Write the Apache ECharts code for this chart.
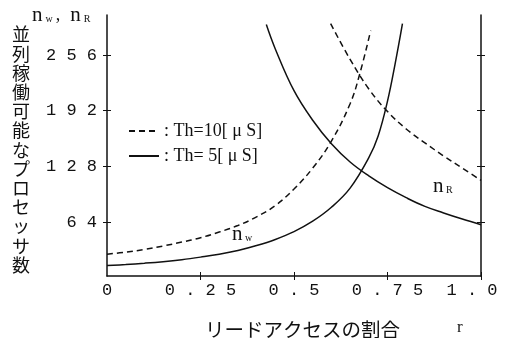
<!DOCTYPE html>
<html>
<head>
<meta charset="utf-8">
<script src="https://cdn.jsdelivr.net/npm/echarts@6/dist/echarts.min.js"></script>
<style>
  html, body { margin: 0; padding: 0; background: #ffffff; }
  #chart { width: 507px; height: 338px; }
</style>
</head>
<body>
<div id="chart"></div>
<script>
// n_w, Th = 5 us (solid)
const rW5 = [0, 0.05, 0.1, 0.15, 0.2, 0.25, 0.3, 0.35, 0.4, 0.45, 0.5, 0.55, 0.6, 0.65, 0.7, 0.725, 0.75, 0.77, 0.79];
const nW5 = [14, 15.2, 16.7, 18.5, 20.8, 23.7, 27, 31.3, 37, 44, 53, 65, 81, 103, 138, 163, 203, 245, 292];

// n_w, Th = 10 us (dashed)
const rW10 = [0, 0.05, 0.1, 0.15, 0.2, 0.25, 0.3, 0.35, 0.4, 0.45, 0.5, 0.55, 0.6, 0.65, 0.675, 0.705];
const nW10 = [27, 29.5, 32.5, 36.5, 41, 46, 52.5, 60, 70, 83, 102, 126, 157, 200, 233, 284];

// n_R, Th = 5 us (solid)
const rR5 = [0.426, 0.45, 0.5, 0.55, 0.6, 0.65, 0.7, 0.75, 0.8, 0.85, 0.9, 0.95, 1.0];
const nR5 = [291, 263, 215, 181, 154, 133, 117, 103.5, 92, 82, 74.5, 67.5, 61];

// n_R, Th = 10 us (dashed)
const rR10 = [0.598, 0.65, 0.7, 0.75, 0.8, 0.85, 0.9, 0.95, 1.0];
const nR10 = [292, 251, 217, 191, 171, 155, 140, 126, 112];

const xTicks = [0, 0.25, 0.5, 0.75, 1.0];
const xTickLabels = ["0", "0 . 2 5", "0 . 5", "0 . 7 5", "1 . 0"];
const yTicks = [64, 128, 192, 256];
const yTickLabels = ["6 4", "1 2 8", "1 9 2", "2 5 6"];

const nameSolid = ": Th= 5[ μ S]";
const nameDashed = ": Th=10[ μ S]";
const yTitle = "並列稼働可能なプロセッサ数";
const xTitle = "リードアクセスの割合";

const INK = "#111111";
const MONO = "'Liberation Mono', monospace";
const SERIF = "'Liberation Serif', serif";
const JP = "'Noto Sans CJK JP', sans-serif";

function pairs(xs, ys) {
    return xs.map((x, i) => [x, ys[i]]);
}

function xAxisPart(inside, showLine, showLabel) {
    return {
        type: "value",
        position: "bottom",
        min: 0,
        max: 1,
        interval: 0.25,
        splitLine: { show: false },
        axisLine: { show: showLine, onZero: false, lineStyle: { color: INK, width: 1.5 } },
        axisTick: {
            show: true,
            inside: inside,
            length: 4,
            customValues: [0.25, 0.5, 0.75, 1.0],
            lineStyle: { color: INK, width: 1 }
        },
        axisLabel: {
            show: showLabel,
            customValues: xTicks,
            margin: 6,
            color: INK,
            fontFamily: MONO,
            fontSize: 17,
            formatter: v => {
                const i = xTicks.findIndex(t => Math.abs(t - v) < 1e-6);
                if (i < 0) return "";
                if (i === xTicks.length - 1) return "{last|" + xTickLabels[i] + "}";
                return xTickLabels[i];
            },
            rich: {
                last: { fontFamily: MONO, fontSize: 17, color: INK, padding: [0, 18, 0, 0] }
            }
        }
    };
}

function yAxisPart(pos, inside, showLine, showLabel) {
    return {
        type: "value",
        position: pos,
        min: 2,
        max: 302,
        splitLine: { show: false },
        axisLine: { show: showLine, onZero: false, lineStyle: { color: INK, width: 1.5 } },
        axisTick: {
            show: true,
            inside: inside,
            length: 4,
            customValues: yTicks,
            lineStyle: { color: INK, width: 1 }
        },
        axisLabel: {
            show: showLabel,
            customValues: yTicks,
            margin: 10,
            color: INK,
            fontFamily: MONO,
            fontSize: 17,
            formatter: v => {
                const i = yTicks.indexOf(Math.round(v));
                return i < 0 ? "" : yTickLabels[i];
            }
        }
    };
}

function curve(name, xs, ys, dashed) {
    return {
        name: name,
        type: "line",
        xAxisIndex: 0,
        yAxisIndex: 0,
        data: pairs(xs, ys),
        smooth: 0.4,
        symbol: "none",
        silent: true,
        color: INK,
        itemStyle: { color: INK },
        lineStyle: {
            color: INK,
            width: 1.5,
            type: dashed ? [6, 4] : "solid"
        }
    };
}

const chart = echarts.init(document.getElementById("chart"), null, { renderer: "canvas" });

chart.setOption({
    backgroundColor: "#ffffff",
    animation: false,
    grid: { left: 107, top: 15, width: 374, height: 261, containLabel: false },
    xAxis: [
        xAxisPart(false, true, true),
        xAxisPart(true, false, false)
    ],
    yAxis: [
        yAxisPart("left", false, true, true),
        yAxisPart("left", true, false, false),
        yAxisPart("right", false, true, false),
        yAxisPart("right", true, false, false)
    ],
    legend: {
        orient: "vertical",
        left: 123,
        top: 117,
        padding: 5,
        itemWidth: 30,
        itemHeight: 14,
        itemGap: 7,
        data: [nameDashed, nameSolid],
        itemStyle: { opacity: 0 },
        textStyle: { color: INK, fontFamily: SERIF, fontSize: 18 },
        selectedMode: false
    },
    series: [
        curve(nameDashed, rW10, nW10, true),
        curve(nameSolid, rW5, nW5, false),
        curve(nameDashed, rR10, nR10, true),
        curve(nameSolid, rR5, nR5, false)
    ],
    graphic: [
        {
            type: "text",
            left: 32,
            top: 5,
            style: {
                text: "{n|n}{s|w}{c|,}{n|n}{s|R}",
                rich: {
                    n: { fontFamily: SERIF, fontSize: 21, fill: INK },
                    s: { fontFamily: SERIF, fontSize: 10, fill: INK, padding: [7, 3, 0, 3] },
                    c: { fontFamily: SERIF, fontSize: 18, fill: INK, padding: [0, 10, 0, 0] }
                }
            }
        },
        {
            type: "text",
            left: 12,
            top: 25,
            style: {
                text: yTitle.split("").join("\n"),
                font: "18px " + JP,
                lineHeight: 19.2,
                fill: INK,
                align: "left"
            }
        },
        {
            type: "text",
            left: 205,
            top: 320,
            style: { text: xTitle, font: "19.5px " + JP, fill: INK }
        },
        {
            type: "text",
            left: 457,
            top: 319,
            style: { text: "r", font: "17px " + SERIF, fill: INK }
        },
        {
            type: "text",
            left: 232,
            top: 224,
            style: {
                text: "{n|n}{s| w}",
                rich: {
                    n: { fontFamily: SERIF, fontSize: 21, fill: INK },
                    s: { fontFamily: SERIF, fontSize: 10, fill: INK, padding: [7, 0, 0, 0] }
                }
            }
        },
        {
            type: "text",
            left: 433,
            top: 176,
            style: {
                text: "{n|n}{s| R}",
                rich: {
                    n: { fontFamily: SERIF, fontSize: 21, fill: INK },
                    s: { fontFamily: SERIF, fontSize: 10, fill: INK, padding: [7, 0, 0, 0] }
                }
            }
        }
    ]
});
</script>
</body>
</html>
